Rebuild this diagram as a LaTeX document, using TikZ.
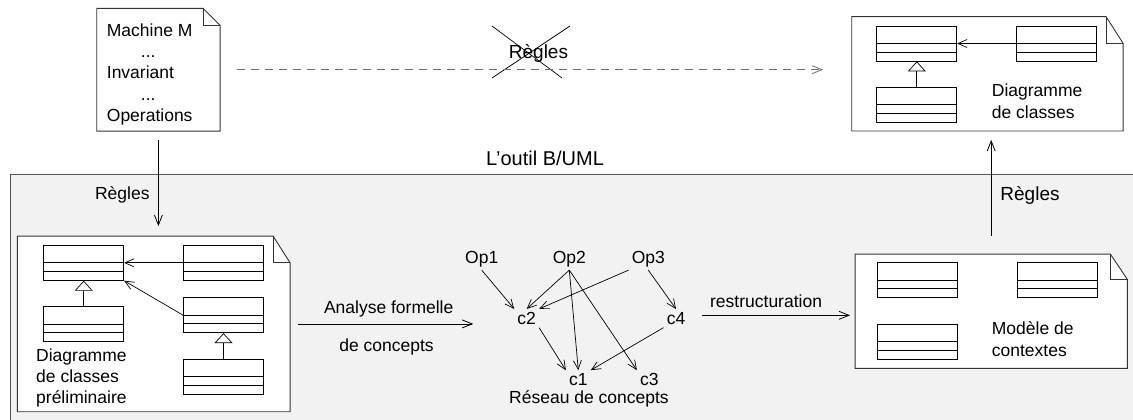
\documentclass[tikz,border=0pt]{standalone}
\usepackage{fontspec}
\setmainfont{Liberation Sans}
\usetikzlibrary{arrows.meta, positioning}
\definecolor{Panel}{HTML}{F2F2F2}
\definecolor{PanelLine}{HTML}{555555}
\definecolor{DocLine}{HTML}{333333}
\definecolor{DashGray}{HTML}{6E6E6E}

\tikzset{
  docarea/.style={inner sep=0, outer sep=0},
  docline/.style={draw=DocLine, line width=0.9pt},
  classbox/.style={draw, fill=white, line width=0.8pt, minimum width=80pt, minimum height=35pt, inner sep=0,
    path picture={
      \draw[line width=0.8pt] ([yshift=-17.5pt]path picture bounding box.north west) -- ([yshift=-17.5pt]path picture bounding box.north east);
      \draw[line width=0.8pt] ([yshift=9pt]path picture bounding box.south west) -- ([yshift=9pt]path picture bounding box.south east);
    }},
  assoc/.style={-{Straight Barb[length=9pt,width=8pt]}, line width=0.7pt},
  inherit/.style={-{Triangle[open, length=10pt, width=18pt]}, line width=0.7pt},
  flow/.style={-{Straight Barb[length=10pt,width=8pt]}, line width=0.8pt},
  concept/.style={inner sep=3pt},
  textblock/.style={inner sep=0, anchor=north west, align=left},
}

% folded document outline round an empty node: #1 node, #2 fold height
\newcommand{\foldeddoc}[2]{%
  \draw[docline, fill=white] (#1.south west) -- (#1.north west) -- ([xshift=-17pt]#1.north east)
    -- ([yshift=-#2]#1.north east) -- (#1.south east) -- cycle;
  \draw[docline] ([xshift=-17pt]#1.north east) |- ([yshift=-#2]#1.north east);
}

\begin{document}
\begin{tikzpicture}[x=1pt, y=-1pt, font=\fontsize{17.5}{21.25}\selectfont]
\useasboundingbox (0,0) rectangle (1133,420);

% the tool panel
\draw[fill=Panel, draw=PanelLine, line width=1pt] (10,174) rectangle (1140,430);
\node[font=\fontsize{20}{24}\selectfont] (tool) at (545,158.3) {L’outil B/UML};

% documents
\node[docarea, minimum width=123.3pt, minimum height=122.7pt] (mach) at (158.4,69.7) {};
\node[docarea, minimum width=271.3pt, minimum height=114.3pt] (cls) at (987.4,73.8) {};
\node[docarea, minimum width=272.7pt, minimum height=175.7pt] (prelim) at (153.7,323.9) {};
\node[docarea, minimum width=272.3pt, minimum height=114.3pt] (ctx) at (991.2,311.2) {};
\foldeddoc{mach}{17pt}
\foldeddoc{cls}{26.6pt}
\foldeddoc{prelim}{26.7pt}
\foldeddoc{ctx}{25.3pt}

\node[textblock] (machtext) at (106.7,23.5) {Machine M\\\hspace*{34pt}...\\Invariant\\\hspace*{34pt}...\\Operations};
\node[textblock] (clstext) at (991.7,84) {Diagramme\\de classes};
\node[textblock] (prelimtext) at (36,348.5) {Diagramme\\de classes\\préliminaire};
\node[textblock] (ctxtext) at (991.7,321.8) {Modèle de\\contextes};

% classes of the preliminary diagram
\node[classbox] (pa) at (83.7,262.8) {};
\node[classbox] (pb) at (223.5,262.8) {};
\node[classbox] (pc) at (83.7,323.9) {};
\node[classbox] (pd) at (223.5,315.2) {};
\node[classbox] (pe) at (223.5,376.5) {};
\draw[assoc] (pb.west) -- (pa.east);
\draw[assoc] (pd.west) -- (pa.south east);
\draw[inherit] (pc.north) -- (pa.south);
\draw[inherit] (pe.north) -- (pd.south);

% classes of the final diagram
\node[classbox] (ca) at (916.8,43.5) {};
\node[classbox] (cb) at (1056.8,43.5) {};
\node[classbox] (cc) at (916.8,104.8) {};
\draw[assoc] (cb.west) -- (ca.east);
\draw[inherit] (cc.north) -- (ca.south);

% classes of the context model
\node[classbox] (xa) at (917,280.2) {};
\node[classbox] (xb) at (1057,280.2) {};
\node[classbox] (xc) at (917,341.7) {};

% concept lattice
\node[concept] (op1) at (481.7,259) {Op1};
\node[concept] (op2) at (569.3,259) {Op2};
\node[concept] (op3) at (648.3,259) {Op3};
\node[concept] (c2) at (526.7,318.3) {c2};
\node[concept] (c4) at (676,318.3) {c4};
\node[concept] (c1) at (578.3,379.5) {c1};
\node[concept] (c3) at (649.3,379.5) {c3};
\node[inner sep=0] (lattice) at (589,399) {Réseau de concepts};
\draw[assoc] (op1.south) -- (c2.north west);
\draw[assoc] (op2.south) -- (c2.north);
\draw[assoc] (op3.south west) -- (c2.north east);
\draw[assoc] (op2.south) -- (c1.north);
\draw[assoc] (op2.south) -- (c3.north west);
\draw[assoc] (op3.south) -- (c4.north);
\draw[assoc] (c2.south east) -- (c1.north west);
\draw[assoc] (c4.south west) -- (c1.north east);

% transformations
\node[font=\fontsize{19}{22}\selectfont] (banned) at (538.5,53.3) {Règles};
\draw[line width=0.7pt] (492,26) -- (562,78) (570,26) -- (492,78);
\draw[flow, dash pattern=on 8pt off 6pt, draw=DashGray, shorten <=17pt, shorten >=28.7pt] (mach.east) -- (mach.east -| cls.west);

\draw[flow, shorten <=9pt, shorten >=10pt] (mach.south) -- (mach.south |- prelim.north);
\node (rulesin) at (122.3,195) {Règles};
\draw[flow, shorten <=18pt, shorten >=9pt] (ctx.north) -- (ctx.north |- cls.south);
\node[font=\fontsize{19}{22}\selectfont] (rulesout) at (1030,195) {Règles};

\draw[flow, shorten <=8pt, shorten >=41pt] (prelim.east) -- (prelim.east -| c2.west)
  node[pos=0.44, above=6.75pt, inner sep=0] {Analyse formelle}
  node[pos=0.43, below=14.5pt, inner sep=0] {de concepts};
\draw[flow, shorten <=13.5pt, shorten >=5pt] ([yshift=3pt]c4.east) -- ([yshift=3pt]c4.east -| ctx.west)
  node[pos=0.466, above=7pt, inner sep=0] {restructuration};
\end{tikzpicture}
\end{document}
